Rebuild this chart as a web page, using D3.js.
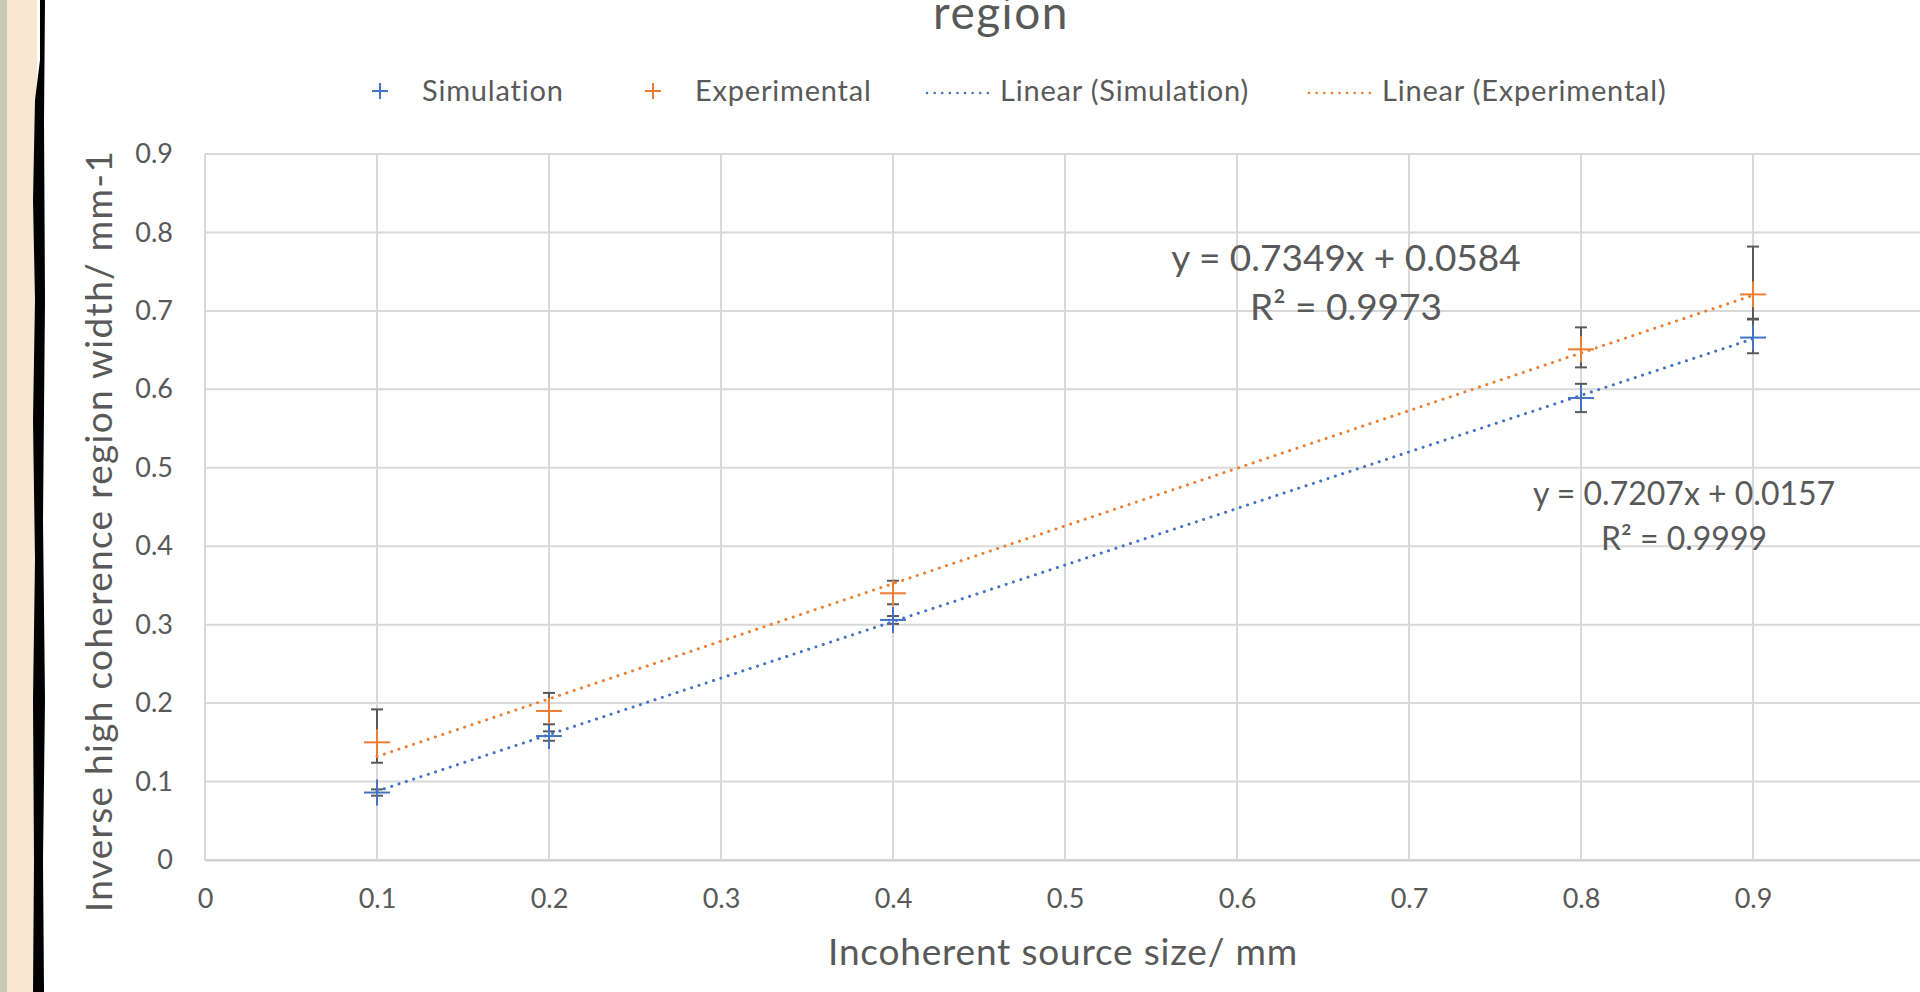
<!DOCTYPE html>
<html>
<head>
<meta charset="utf-8">
<script src="https://cdn.jsdelivr.net/npm/d3@7"></script>
<style>
  body { margin: 0; background: #fff; overflow: hidden; }
  text { font-family: Lato, "Open Sans", sans-serif; fill: #595959; }
</style>
</head>
<body>
<div id="chart"></div>
<script>
// data
var sizes = [0.1, 0.2, 0.4, 0.8, 0.9]
var simValues = [0.086, 0.158, 0.306, 0.589, 0.666]
var simErrPlus = [0.004, 0.006, 0.005, 0.018, 0.024]
var simErrMinus = [0.004, 0.006, 0.005, 0.018, 0.020]
var expValues = [0.150, 0.190, 0.340, 0.651, 0.721]
var expErrPlus = [0.042, 0.023, 0.016, 0.028, 0.061]
var expErrMinus = [0.026, 0.017, 0.014, 0.023, 0.032]

var xTicks = [0, 0.1, 0.2, 0.3, 0.4, 0.5, 0.6, 0.7, 0.8, 0.9, 1]
var yTicks = [0, 0.1, 0.2, 0.3, 0.4, 0.5, 0.6, 0.7, 0.8, 0.9]

var simFit = { slope: 0.7207, intercept: 0.0157, r2: '0.9999' }
var expFit = { slope: 0.7349, intercept: 0.0584, r2: '0.9973' }

var blue = '#4472C4'
var orange = '#ED7D31'
var errColor = '#595959'
var gridColor = '#d9d9d9'

var width = 1920
var height = 992

var svg = d3.select('#chart')
  .append('svg')
  .attr('width', width)
  .attr('height', height)

// scales
var xScale = d3.scaleLinear().domain([0, 1]).range([205, 1925])
var yScale = d3.scaleLinear().domain([0, 0.9]).range([860, 154])

// gridlines
svg.append('g')
  .selectAll('line')
  .data(yTicks)
  .enter()
  .append('line')
  .attr('x1', xScale(0))
  .attr('x2', width)
  .attr('y1', d => yScale(d))
  .attr('y2', d => yScale(d))
  .attr('stroke', gridColor)
  .attr('stroke-width', 2)

svg.append('g')
  .selectAll('line')
  .data(xTicks)
  .enter()
  .append('line')
  .attr('x1', d => xScale(d))
  .attr('x2', d => xScale(d))
  .attr('y1', yScale(0.9))
  .attr('y2', yScale(0))
  .attr('stroke', gridColor)
  .attr('stroke-width', 2)

// axes (labels only)
var fmt = d => (d === 0 || d === 1) ? String(d) : d3.format('.1f')(d)

var xAxis = svg.append('g')
  .attr('transform', 'translate(0,' + yScale(0) + ')')
  .call(d3.axisBottom(xScale).tickValues(xTicks).tickFormat(fmt).tickSize(0).tickPadding(29))
xAxis.select('.domain').attr('stroke', '#cfcfcf').attr('stroke-width', 2)
xAxis.selectAll('text').style('font-size', '27px').attr('fill', '#595959')

var yAxis = svg.append('g')
  .attr('transform', 'translate(' + xScale(0) + ',0)')
  .call(d3.axisLeft(yScale).tickValues(yTicks).tickFormat(fmt).tickSize(0).tickPadding(32))
yAxis.select('.domain').remove()
yAxis.selectAll('text').style('font-size', '27px').attr('fill', '#595959')

// trendlines
function fitLine(fit) {
  return [
    { x: sizes[0], y: fit.slope * sizes[0] + fit.intercept },
    { x: sizes[sizes.length - 1], y: fit.slope * sizes[sizes.length - 1] + fit.intercept }
  ]
}
var line = d3.line().x(d => xScale(d.x)).y(d => yScale(d.y))

function drawSeries(values, plus, minus, color, fit) {
  var pts = sizes.map((s, i) => ({ x: s, y: values[i], p: plus[i], m: minus[i] }))
  var g = svg.append('g')

  // error bars
  var eb = g.selectAll('.err').data(pts).enter().append('g')
  eb.append('line')
    .attr('x1', d => xScale(d.x)).attr('x2', d => xScale(d.x))
    .attr('y1', d => yScale(d.y + d.p)).attr('y2', d => yScale(d.y - d.m))
    .attr('stroke', errColor).attr('stroke-width', 2)
  eb.append('line')
    .attr('x1', d => xScale(d.x) - 6).attr('x2', d => xScale(d.x) + 6)
    .attr('y1', d => yScale(d.y + d.p)).attr('y2', d => yScale(d.y + d.p))
    .attr('stroke', errColor).attr('stroke-width', 2)
  eb.append('line')
    .attr('x1', d => xScale(d.x) - 6).attr('x2', d => xScale(d.x) + 6)
    .attr('y1', d => yScale(d.y - d.m)).attr('y2', d => yScale(d.y - d.m))
    .attr('stroke', errColor).attr('stroke-width', 2)

  // plus markers
  var mk = g.selectAll('.mk').data(pts).enter().append('g')
  mk.append('line')
    .attr('x1', d => xScale(d.x) - 13).attr('x2', d => xScale(d.x) + 13)
    .attr('y1', d => yScale(d.y)).attr('y2', d => yScale(d.y))
    .attr('stroke', color).attr('stroke-width', 2)
  mk.append('line')
    .attr('x1', d => xScale(d.x)).attr('x2', d => xScale(d.x))
    .attr('y1', d => yScale(d.y) - 13).attr('y2', d => yScale(d.y) + 13)
    .attr('stroke', color).attr('stroke-width', 2)

  g.append('path')
    .datum(fitLine(fit))
    .attr('d', line)
    .attr('fill', 'none')
    .attr('stroke', color)
    .attr('stroke-width', 3)
    .attr('stroke-linecap', 'round')
    .attr('stroke-dasharray', '0.1 7.6')
}

drawSeries(simValues, simErrPlus, simErrMinus, blue, simFit)
drawSeries(expValues, expErrPlus, expErrMinus, orange, expFit)

// trendline equations
function eqText(fit) {
  return 'y = ' + fit.slope.toFixed(4) + 'x + ' + fit.intercept.toFixed(4)
}
svg.append('text').attr('x', 1346).attr('y', 271).attr('text-anchor', 'middle')
  .style('font-size', '37px').text(eqText(expFit))
svg.append('text').attr('x', 1346).attr('y', 320).attr('text-anchor', 'middle')
  .style('font-size', '37px').text('R² = ' + expFit.r2)
svg.append('text').attr('x', 1684).attr('y', 505).attr('text-anchor', 'middle')
  .style('font-size', '32px').text(eqText(simFit))
svg.append('text').attr('x', 1684).attr('y', 550).attr('text-anchor', 'middle')
  .style('font-size', '32px').text('R² = ' + simFit.r2)

// title (cut off at top)
svg.append('text').attr('x', 1001).attr('y', 29).attr('text-anchor', 'middle')
  .style('font-size', '46px').style('letter-spacing', '1.5px').text('region')

// axis titles
svg.append('text')
  .attr('transform', 'translate(112,531) rotate(-90)')
  .attr('text-anchor', 'middle')
  .style('font-size', '37px')
  .style('letter-spacing', '1.3px')
  .text('Inverse high coherence region width/ mm-1')

svg.append('text')
  .attr('x', 1063).attr('y', 965).attr('text-anchor', 'middle')
  .style('font-size', '37px')
  .style('letter-spacing', '0.8px')
  .text('Incoherent source size/ mm')

// legend
var legendItems = [
  { label: 'Simulation', color: blue, type: 'marker', sx: 380, tx: 422 },
  { label: 'Experimental', color: orange, type: 'marker', sx: 653, tx: 695 },
  { label: 'Linear (Simulation)', color: blue, type: 'line', sx: 927, tx: 1000 },
  { label: 'Linear (Experimental)', color: orange, type: 'line', sx: 1309, tx: 1382 }
]
var ly = 91
var lg = svg.append('g').selectAll('g').data(legendItems).enter().append('g')
lg.filter(d => d.type === 'marker').each(function(d) {
  var s = d3.select(this)
  s.append('line').attr('x1', d.sx - 8).attr('x2', d.sx + 8).attr('y1', ly).attr('y2', ly)
    .attr('stroke', d.color).attr('stroke-width', 2)
  s.append('line').attr('x1', d.sx).attr('x2', d.sx).attr('y1', ly - 8).attr('y2', ly + 8)
    .attr('stroke', d.color).attr('stroke-width', 2)
})
lg.filter(d => d.type === 'line').append('line')
  .attr('x1', d => d.sx).attr('x2', d => d.sx + 68).attr('y1', ly + 2).attr('y2', ly + 2)
  .attr('stroke', d => d.color).attr('stroke-width', 2.5)
  .attr('stroke-linecap', 'round').attr('stroke-dasharray', '0.1 7.5')
lg.append('text')
  .attr('x', d => d.tx).attr('y', ly + 10)
  .style('font-size', '29px')
  .style('letter-spacing', '0.8px')
  .text(d => d.label)

// left page edge decoration
var edge = svg.append('g')
edge.append('rect').attr('x', 0).attr('y', 0).attr('width', 8).attr('height', height).attr('fill', '#c9c9b8')
edge.append('rect').attr('x', 7).attr('y', 0).attr('width', 30).attr('height', height).attr('fill', '#f8e8d2')
edge.append('path')
  .attr('d', 'M40,0 L45,0 L44,120 L45,300 L43,520 L45,700 L43,860 L44,992 L33,992 L34,860 L33,700 L35,560 L33,420 L35,300 L33,200 L35,100 L40,60 Z')
  .attr('fill', '#000')
</script>
</body>
</html>
